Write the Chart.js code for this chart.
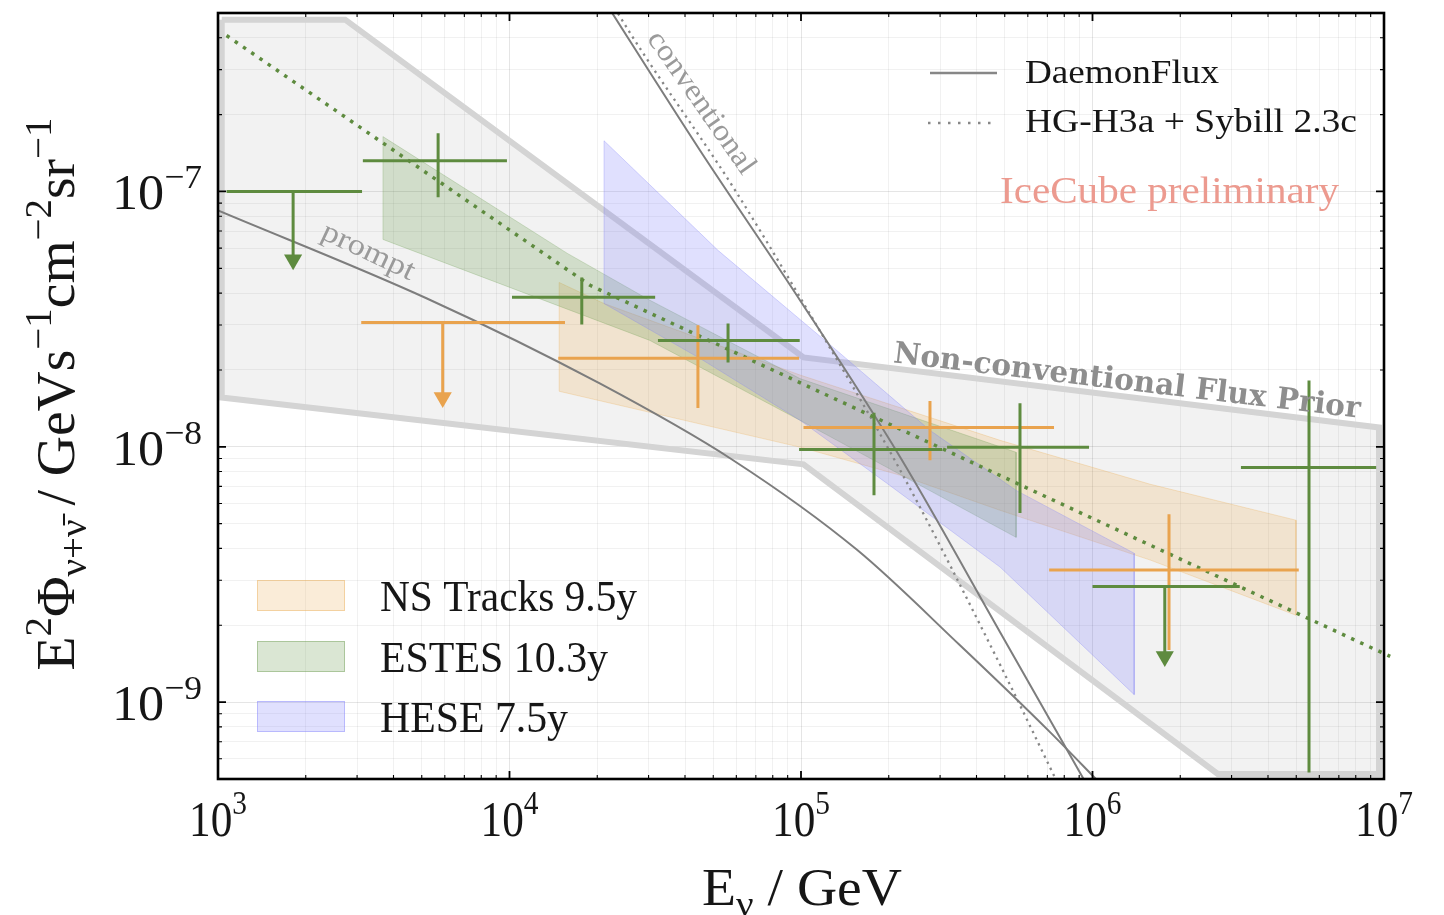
<!DOCTYPE html>
<html>
<head>
<meta charset="utf-8">
<script src="https://cdn.jsdelivr.net/npm/chart.js@4.4.1/dist/chart.umd.min.js"></script>
<style>
  html, body { margin: 0; padding: 0; background: #fff; }
  canvas { display: block; }
</style>
</head>
<body>
<canvas id="fluxChart" width="1444" height="915"></canvas>
<script>
// ---- axes ----
const xRange = [1e3, 1e7];
const yRange = [5e-10, 5e-7];
const xMajor = [1e3, 1e4, 1e5, 1e6, 1e7];
const xMajorExp = ['3', '4', '5', '6', '7'];
const yMajor = [1e-9, 1e-8, 1e-7];
const yMajorExp = ['\u22129', '\u22128', '\u22127'];
const minorMantissa = [2, 3, 4, 5, 6, 7, 8, 9];

// ---- non-conventional flux prior (closed outline) ----
const priorE = [1.03e3, 2.73e3, 1.02e5, 9.61e6, 9.61e6, 2.69e6, 1.02e5, 1.03e3, 1.03e3];
const priorF = [4.71e-7, 4.71e-7, 2.24e-8, 1.19e-8, 5.23e-10, 5.23e-10, 8.54e-9, 1.56e-8, 4.71e-7];

// ---- unfolded bands (outline, upper edge then lower edge) ----
const nsE = [1.48e4, 2.11e4, 9.92e4, 4.82e5, 1.58e6, 4.99e6, 4.99e6, 1.58e6, 4.82e5, 2.19e5, 1.0e5, 1.48e4, 1.48e4];
const nsF = [4.40e-8, 3.64e-8, 1.91e-8, 1.06e-8, 7.13e-9, 5.16e-9, 2.19e-9, 3.60e-9, 5.64e-9, 7.74e-9, 9.95e-9, 1.65e-8, 4.40e-8];
const estesE = [3.68e3, 1.58e4, 3.03e4, 9.92e4, 5.47e5, 5.47e5, 9.92e4, 3.03e4, 3.68e3, 3.68e3];
const estesF = [1.64e-7, 5.72e-8, 3.75e-8, 1.85e-8, 9.52e-9, 4.42e-9, 1.27e-8, 2.61e-8, 6.49e-8, 1.64e-7];
const heseE = [2.11e4, 5.19e4, 1.29e5, 2.77e5, 5.47e5, 1.39e6, 1.39e6, 4.82e5, 1.97e5, 9.92e4, 4.50e4, 2.11e4, 2.11e4];
const heseF = [1.58e-7, 5.88e-8, 2.45e-8, 1.16e-8, 6.75e-9, 3.83e-9, 1.07e-9, 3.38e-9, 7.20e-9, 1.27e-8, 2.22e-8, 3.64e-8, 1.58e-7];

// ---- atmospheric models ----
const promptE = [1e3, 5.21e3, 2.04e4, 5.85e4, 1.56e5, 3.51e5, 7.15e5, 1.06e6];
const promptF = [8.43e-8, 3.81e-8, 1.77e-8, 8.86e-9, 3.94e-9, 1.67e-9, 7.63e-10, 4.82e-10];
const daemonE = [2.01e4, 4.50e4, 9.92e4, 2.19e5, 4.82e5, 9.80e5];
const daemonF = [6.12e-7, 1.45e-7, 3.75e-8, 9.10e-9, 1.88e-9, 4.52e-10];
const hgE = [2.18e4, 2.36e4, 5.85e4, 9.92e4, 2.19e5, 4.82e5, 7.86e5];
const hgF = [5.85e-7, 4.97e-7, 1.04e-7, 3.85e-8, 8.09e-9, 1.40e-9, 4.44e-10];

// ---- astrophysical best fit ----
const astroE = [1.07e3, 1.89e4, 1.05e7];
const astroF = [4.08e-7, 4.29e-8, 1.51e-9];

// ---- ESTES segmented points ----
const estesPtE = [1.81e3, 5.69e3, 1.77e4, 5.62e4, 1.78e5, 5.64e5, 1.77e6, 5.53e6];
const estesPtElo = [1.07e3, 3.14e3, 1.02e4, 3.23e4, 9.85e4, 3.17e5, 1.0e6, 3.23e6];
const estesPtEhi = [3.12e3, 9.8e3, 3.16e4, 9.9e4, 3.05e5, 9.73e5, 3.2e6, 9.4e6];
const estesPtF = [1.0e-7, 1.32e-7, 3.85e-8, 2.61e-8, 9.77e-9, 9.95e-9, 2.84e-9, 8.3e-9];
const estesPtFlo = [5.4e-8, 9.5e-8, 3.01e-8, 2.14e-8, 6.46e-9, 5.5e-9, 1.51e-9, 5.3e-10];
const estesPtFhi = [null, 1.69e-7, 4.6e-8, 3.04e-8, 1.36e-8, 1.48e-8, null, 1.82e-8];
const estesPtUL = [true, false, false, false, false, false, true, false];

// ---- NS tracks segmented points ----
const nsPtE = [5.9e3, 4.43e4, 2.77e5, 1.83e6];
const nsPtElo = [3.1e3, 1.47e4, 1.02e5, 7.1e5];
const nsPtEhi = [1.55e4, 9.85e4, 7.38e5, 5.1e6];
const nsPtF = [3.07e-8, 2.22e-8, 1.19e-8, 3.29e-9];
const nsPtFlo = [1.56e-8, 1.42e-8, 8.85e-9, 1.6e-9];
const nsPtFhi = [null, 2.99e-8, 1.51e-8, 5.44e-9];
const nsPtUL = [true, false, false, false];

const GREEN = 'rgb(94,139,63)';
const ORANGE = 'rgb(233,163,78)';
const NS_FILL = 'rgba(235,175,90,0.24)';
const ESTES_FILL = 'rgba(100,150,70,0.24)';
const HESE_FILL = 'rgba(125,125,250,0.24)';
const SERIF = '"Liberation Serif", "DejaVu Serif", serif';

function pts(E, F) {
    return E.map((e, i) => ({ x: e, y: F[i] }));
}

function lineSet(E, F, opts) {
    return Object.assign({
        data: pts(E, F),
        showLine: true,
        pointRadius: 0,
        pointHoverRadius: 0,
        fill: false,
        tension: 0,
        borderWidth: 2,
        borderColor: 'rgb(125,125,125)'
    }, opts);
}

// crosses / upper limits built from the point arrays
function errorSets(E, Elo, Ehi, F, Flo, Fhi, UL, color, order) {
    const sets = [];
    const arrows = [];
    E.forEach((e, i) => {
        sets.push(lineSet([Elo[i], Ehi[i]], [F[i], F[i]], { borderColor: color, borderWidth: 3, order }));
        const top = UL[i] ? F[i] : Fhi[i];
        sets.push(lineSet([e, e], [top, Flo[i]], { borderColor: color, borderWidth: 3, order }));
        if (UL[i]) arrows.push({ x: e, y: Flo[i] });
    });
    sets.push({
        data: arrows,
        showLine: false,
        pointStyle: 'triangle',
        rotation: 180,
        pointRadius: 10.5,
        pointHoverRadius: 10.5,
        backgroundColor: color,
        borderColor: color,
        borderWidth: 0,
        order: order - 0.5
    });
    return sets;
}

function buildTicks(lo, hi) {
    const ticks = [];
    for (let e = Math.floor(Math.log10(lo)); e <= Math.ceil(Math.log10(hi)); e++) {
        [1].concat(minorMantissa).forEach(m => {
            const v = m * Math.pow(10, e);
            if (v >= lo * 0.999 && v <= hi * 1.001) ticks.push({ value: v, major: m === 1 });
        });
    }
    return ticks;
}

// text made of runs: [text, size factor, raise in em]
function drawRuns(ctx, parts, x, y, size, o) {
    ctx.save();
    ctx.translate(x, y);
    if (o.rot) ctx.rotate(o.rot);
    ctx.fillStyle = o.color || '#161616';
    ctx.textBaseline = o.baseline || 'alphabetic';
    ctx.textAlign = 'left';
    const fam = o.family || SERIF;
    const wt = o.weight || 'normal';
    let w = 0;
    const ws = parts.map(p => {
        ctx.font = `${wt} ${size * p[1]}px ${fam}`;
        const m = ctx.measureText(p[0]).width;
        w += m;
        return m;
    });
    ctx.scale(o.width ? o.width / w : 1, 1);
    let cx = o.align === 'center' ? -w / 2 : o.align === 'right' ? -w : 0;
    parts.forEach((p, i) => {
        ctx.font = `${wt} ${size * p[1]}px ${fam}`;
        ctx.fillText(p[0], cx, -(p[2] || 0) * size);
        cx += ws[i];
    });
    ctx.restore();
}

const deg = Math.PI / 180;

// Annotations, legends
const decorPlugin = {
    id: 'decor',
    afterDatasetsDraw(chart) {
        const ctx = chart.ctx;

        drawRuns(ctx, [['prompt', 1]], 368, 252, 30, { align: 'center', width: 100, rot: 25.3 * deg, baseline: 'middle', color: '#9a9a9a' });
        drawRuns(ctx, [['conventional', 1]], 701, 103, 30, { align: 'center', width: 168, rot: 55 * deg, baseline: 'middle', color: '#9a9a9a' });
        drawRuns(ctx, [['Non-conventional Flux Prior', 1]], 1126, 390, 30, {
            align: 'center', width: 470, rot: 6.8 * deg, color: '#8e8e8e',
            family: '"DejaVu Serif", serif', weight: 'bold'
        });
        drawRuns(ctx, [['IceCube preliminary', 1]], 1000, 203, 37, { width: 339, color: '#ec9a8f' });

        // line legend (top right)
        ctx.save();
        ctx.strokeStyle = 'rgb(135,135,135)';
        ctx.lineWidth = 2.5;
        ctx.beginPath();
        ctx.moveTo(930, 73); ctx.lineTo(997, 73);
        ctx.stroke();
        ctx.setLineDash([2.5, 7.5]);
        ctx.beginPath();
        ctx.moveTo(928, 123); ctx.lineTo(997, 123);
        ctx.stroke();
        ctx.restore();
        drawRuns(ctx, [['DaemonFlux', 1]], 1025, 83, 33, { width: 194 });
        drawRuns(ctx, [['HG-H3a + Sybill 2.3c', 1]], 1025, 132, 33, { width: 332 });

        // band legend (bottom left)
        const boxes = [
            [NS_FILL, 'rgba(235,175,90,0.45)', 580, 'NS Tracks 9.5y', 257],
            [ESTES_FILL, 'rgba(100,150,70,0.4)', 641, 'ESTES 10.3y', 228],
            [HESE_FILL, 'rgba(125,125,250,0.4)', 701, 'HESE 7.5y', 188]
        ];
        boxes.forEach(b => {
            ctx.fillStyle = b[0];
            ctx.fillRect(257, b[2], 88, 31);
            ctx.strokeStyle = b[1];
            ctx.lineWidth = 1;
            ctx.strokeRect(257.5, b[2] + 0.5, 87, 30);
            drawRuns(ctx, [[b[3], 1]], 380, b[2] + 31, 44, { width: b[4] });
        });
    },
    afterDraw(chart) {
        const { ctx, chartArea: a, scales: { x, y } } = chart;
        ctx.save();
        ctx.strokeStyle = '#000';
        x.ticks.forEach(t => {
            const px = x.getPixelForValue(t.value);
            const len = t.major ? 8 : 4;
            ctx.lineWidth = t.major ? 1.8 : 1.1;
            ctx.beginPath();
            ctx.moveTo(px, a.bottom); ctx.lineTo(px, a.bottom - len);
            ctx.moveTo(px, a.top); ctx.lineTo(px, a.top + len);
            ctx.stroke();
        });
        y.ticks.forEach(t => {
            const py = y.getPixelForValue(t.value);
            const len = t.major ? 8 : 4;
            ctx.lineWidth = t.major ? 1.8 : 1.1;
            ctx.beginPath();
            ctx.moveTo(a.left, py); ctx.lineTo(a.left + len, py);
            ctx.moveTo(a.right, py); ctx.lineTo(a.right - len, py);
            ctx.stroke();
        });
        ctx.lineWidth = 2.6;
        ctx.strokeRect(a.left, a.top, a.right - a.left, a.bottom - a.top);
        ctx.restore();

        xMajor.forEach((v, i) => {
            drawRuns(ctx, [['10', 1, 0], [xMajorExp[i], 0.68, 0.44]], x.getPixelForValue(v), 836, 50, { align: 'center', width: 58 });
        });
        yMajor.forEach((v, i) => {
            drawRuns(ctx, [['10', 1, 0], [yMajorExp[i], 0.68, 0.42]], 202, y.getPixelForValue(v) + 18, 50, { align: 'right', width: 90 });
        });

        drawRuns(ctx, [['E', 1, 0], ['\u03bd', 0.7, -0.22], [' / GeV', 1, 0]], 802, 905, 52, { align: 'center', width: 200 });
        drawRuns(ctx, [
            ['E', 1, 0], ['2', 0.7, 0.42], ['\u03a6', 1, 0], ['\u03bd+\u03bd\u0304', 0.7, -0.22],
            [' / GeVs', 1, 0], ['\u22121', 0.7, 0.42], ['cm', 1, 0], ['\u22122', 0.7, 0.42],
            ['sr', 1, 0], ['\u22121', 0.7, 0.42]
        ], 74, 394, 54, { align: 'center', width: 553, rot: -Math.PI / 2 });
    }
};

const smooth = { cubicInterpolationMode: 'monotone', tension: 0.4 };

const datasets = [
    lineSet(priorE, priorF, {
        fill: 'shape', backgroundColor: 'rgba(0,0,0,0.05)',
        borderColor: 'rgb(212,212,212)', borderWidth: 6, order: 20
    }),
    lineSet(nsE, nsF, { fill: 'shape', backgroundColor: NS_FILL, borderColor: 'rgba(235,175,90,0.3)', borderWidth: 1, order: 19 }),
    lineSet(estesE, estesF, { fill: 'shape', backgroundColor: ESTES_FILL, borderColor: 'rgba(100,150,70,0.25)', borderWidth: 1, order: 18 }),
    lineSet(heseE, heseF, { fill: 'shape', backgroundColor: HESE_FILL, borderColor: 'rgba(125,125,250,0.3)', borderWidth: 1, order: 17 }),
    lineSet(promptE, promptF, Object.assign({ order: 15 }, smooth)),
    lineSet(daemonE, daemonF, Object.assign({ order: 15 }, smooth)),
    lineSet(hgE, hgF, Object.assign({ borderColor: 'rgb(135,135,135)', borderWidth: 2.3, borderDash: [2.3, 4.5], order: 15 }, smooth)),
    lineSet(astroE, astroF, {
        borderColor: GREEN, borderWidth: 3.5, borderDash: [3.5, 6.5], order: 14,
        clip: { left: 0, top: 0, right: 8, bottom: 0 }
    })
].concat(
    errorSets(nsPtE, nsPtElo, nsPtEhi, nsPtF, nsPtFlo, nsPtFhi, nsPtUL, ORANGE, 8),
    errorSets(estesPtE, estesPtElo, estesPtEhi, estesPtF, estesPtFlo, estesPtFhi, estesPtUL, GREEN, 4)
);

const ctx = document.getElementById('fluxChart').getContext('2d');
const fluxChart = new Chart(ctx, {
    type: 'scatter',
    data: { datasets },
    options: {
        responsive: false,
        animation: false,
        events: [],
        layout: { padding: { left: 218, top: 13, right: 60, bottom: 136 } },
        plugins: {
            legend: { display: false },
            tooltip: { enabled: false }
        },
        scales: {
            x: {
                type: 'logarithmic',
                min: xRange[0],
                max: xRange[1],
                afterBuildTicks: scale => { scale.ticks = buildTicks(xRange[0], xRange[1]); },
                ticks: { display: false },
                border: { display: false },
                grid: {
                    drawTicks: false,
                    lineWidth: 1,
                    color: c => (c.tick && c.tick.major ? 'rgba(0,0,0,0.1)' : 'rgba(0,0,0,0.055)')
                }
            },
            y: {
                type: 'logarithmic',
                min: yRange[0],
                max: yRange[1],
                afterBuildTicks: scale => { scale.ticks = buildTicks(yRange[0], yRange[1]); },
                ticks: { display: false },
                border: { display: false },
                grid: {
                    drawTicks: false,
                    lineWidth: 1,
                    color: c => (c.tick && c.tick.major ? 'rgba(0,0,0,0.1)' : 'rgba(0,0,0,0.055)')
                }
            }
        }
    },
    plugins: [decorPlugin]
});
</script>
</body>
</html>
